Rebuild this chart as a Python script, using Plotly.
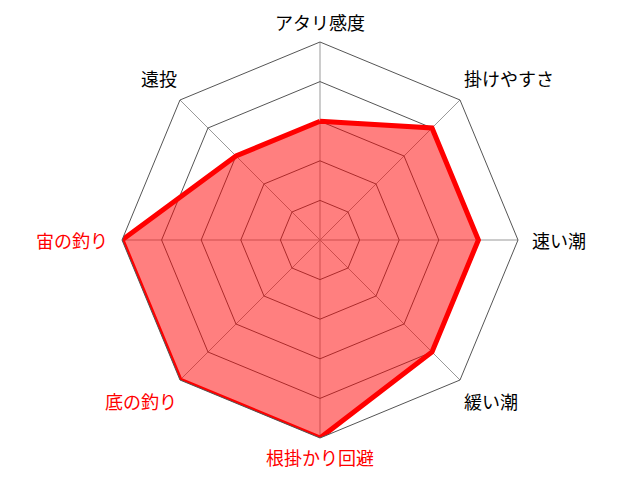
import math
import plotly.graph_objects as go

categories = ["アタリ感度", "掛けやすさ", "速い潮", "緩い潮", "根掛かり回避", "底の釣り", "宙の釣り", "遠投"]
values = [3, 4, 4, 4, 5, 5, 5, 3]
highlight = [False, False, False, False, True, True, True, False]

W, H = 640, 480
OFF = 8          # page body margin shift
CX, CY, R = 320 - OFF, 240 - OFF, 198

fig = go.Figure()
fig.add_trace(go.Scatterpolar(
    r=values + values[:1],
    theta=categories + categories[:1],
    mode="lines",
    fill="toself",
    fillcolor="rgba(255,0,0,0.5)",
    line=dict(color="red", width=5),
    hoverinfo="skip",
))

annotations = []
n = len(categories)
for i, (cat, hl) in enumerate(zip(categories, highlight)):
    ang = math.radians(90 - 360 * i / n)
    c, s = math.cos(ang), math.sin(ang)
    vx, vy = CX + R * c, CY - R * s
    if abs(c) < 0.1:
        xa, px = "center", vx
        py = vy - 20 if s > 0 else vy + 19
    elif abs(s) < 0.1:
        xa = "left" if c > 0 else "right"
        px = vx + 12 if c > 0 else vx - 12
        py = vy
    else:
        xa = "left" if c > 0 else "right"
        px = vx + (2 if c > 0 else -1)
        py = vy - 22 if s > 0 else vy + 21
    annotations.append(dict(
        x=px / W, y=1 - py / H, xref="paper", yref="paper",
        text=cat, showarrow=False, xanchor=xa, yanchor="middle",
        font=dict(size=18, color="red" if hl else "black",
                  family="Noto Sans CJK JP"),
    ))

fig.update_layout(
    width=W, height=H,
    margin=dict(l=0, r=0, t=0, b=0),
    paper_bgcolor="white",
    plot_bgcolor="white",
    showlegend=False,
    font=dict(family="Noto Sans CJK JP", size=16, color="black"),
    annotations=annotations,
    polar=dict(
        domain=dict(x=[(CX - R) / W, (CX + R) / W],
                    y=[1 - (CY + R) / H, 1 - (CY - R) / H]),
        bgcolor="white",
        gridshape="linear",
        radialaxis=dict(
            range=[0, 5], dtick=1, tick0=0,
            showticklabels=False, ticks="",
            showline=False,
            gridcolor="#555555", gridwidth=1,
        ),
        angularaxis=dict(
            direction="clockwise", rotation=90,
            categoryorder="array", categoryarray=categories,
            showticklabels=False, ticks="",
            showline=True, linecolor="#555555", linewidth=1,
            gridcolor="#999999", gridwidth=1,
        ),
    ),
)

fig.write_html("out.html")
